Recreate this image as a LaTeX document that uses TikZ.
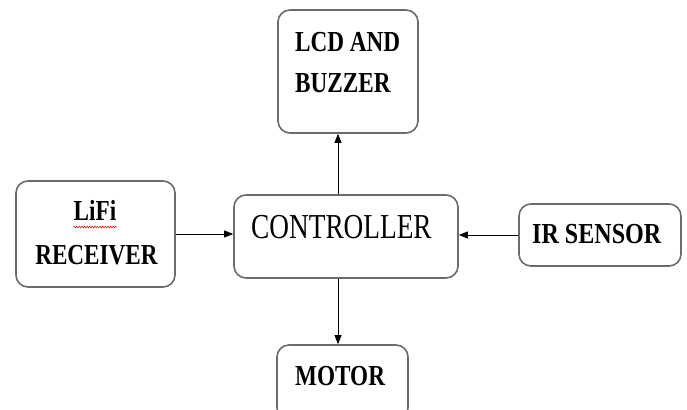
\documentclass[tikz,border=0pt]{standalone}
\usepackage{fontspec}
\setmainfont{Liberation Serif}
\usetikzlibrary{arrows.meta,decorations.pathmorphing}
% horizontally condensed text
\newcommand\condensed[2][0.8]{\scalebox{#1}[1]{#2}}

\begin{document}
\begin{tikzpicture}[x=1pt,y=-1pt,
  blk/.style={draw=black!58, line width=1.6pt, rounded corners=12pt, inner sep=0pt},
  lbl/.style={font=\fontsize{29}{32}\selectfont\bfseries, inner sep=0pt, anchor=base west},
  link/.style={-{Triangle[length=9pt,width=7pt]}, line width=0.8pt}]
\useasboundingbox (0,0) rectangle (687,409);

% blocks
\node[blk, minimum width=140pt, minimum height=123pt] (lcd)   at (348,71.5)  {};
\node[blk, minimum width=159pt, minimum height=106pt] (lifi)  at (95.5,234)  {};
\node[blk, minimum width=224pt, minimum height=83pt]  (ctrl)  at (346,236.5) {};
\node[blk, minimum width=162pt, minimum height=62pt]  (ir)    at (600,235)   {};
\node[blk, minimum width=131pt, minimum height=75pt]  (motor) at (342.5,382.5) {};

% labels
\node[lbl] (lcdA) at (295,52) {\condensed{LCD AND}};
\node[lbl] (lcdB) at (295,93) {\condensed{BUZZER}};
\node[lbl, anchor=base] (lifiA) at (95,220) {\condensed{LiFi}};
\node[lbl, anchor=base] (lifiB) at (96.5,264) {\condensed{RECEIVER}};
\node[inner sep=0pt, anchor=base west, font=\fontsize{35}{38}\selectfont] (ctrlT) at (251,238) {\condensed[0.78]{CONTROLLER}};
\node[lbl] (irT) at (532,243) {\condensed[0.83]{IR SENSOR}};
\node[lbl] (motT) at (295,385) {\condensed{MOTOR}};

% spelling mark under LiFi
\draw[red!85!black, line width=0.5pt, decorate, decoration={zigzag, amplitude=0.9pt, segment length=2.6pt}]
  ([yshift=-7pt]lifiA.base west) -- ([yshift=-7pt]lifiA.base east);

% connectors
\draw[link] (lifi.east) -- (lifi.east -| ctrl.west);
\draw[link] (ir.west) -- (ir.west -| ctrl.east);
\draw[link] ([xshift=-8pt]ctrl.north) -- ([xshift=-8pt]ctrl.north |- lcd.south);
\draw[link] ([xshift=-8pt]ctrl.south) -- ([xshift=-8pt]ctrl.south |- motor.north);
\end{tikzpicture}
\end{document}
